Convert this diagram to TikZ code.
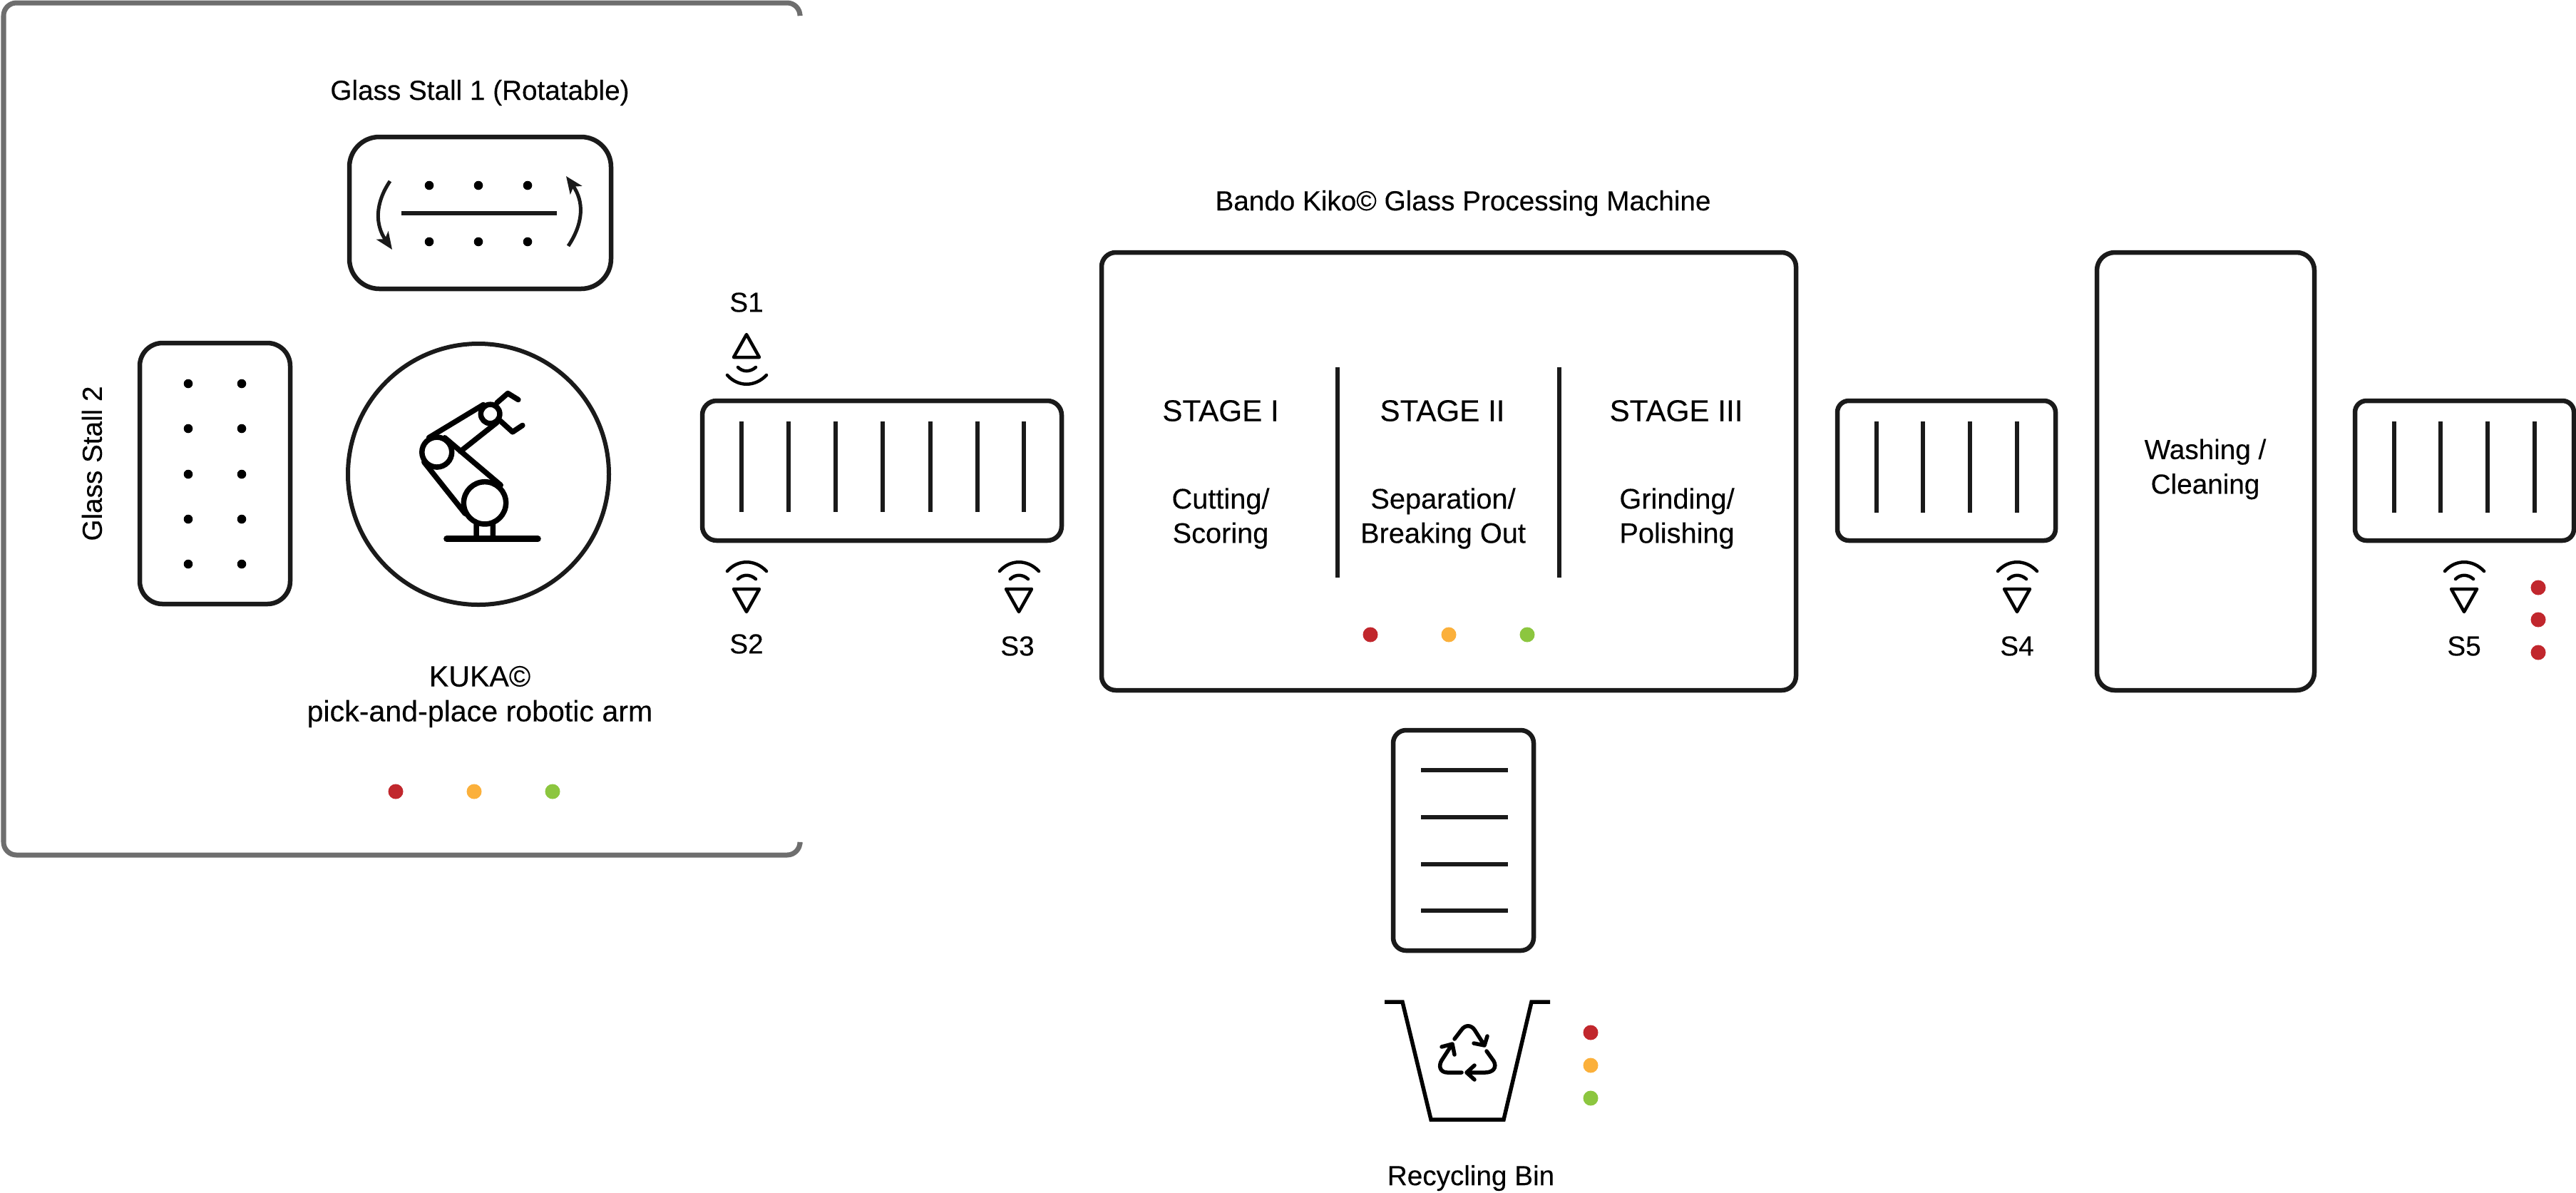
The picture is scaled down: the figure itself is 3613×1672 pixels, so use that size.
\documentclass[tikz,border=0pt]{standalone}
\usepackage{fontspec}
\setmainfont{Liberation Sans}[BoldFont=Liberation Sans,BoldFeatures={FakeBold=0.25}]
\usetikzlibrary{arrows.meta}
\definecolor{ink}{HTML}{1A1A1A}
\definecolor{framegray}{HTML}{6E6E6E}
\definecolor{lampred}{HTML}{C1272D}
\definecolor{lamporange}{HTML}{FBB03B}
\definecolor{lampgreen}{HTML}{8CC63F}
\tikzset{
  x=0.01cm,y=-0.01cm,
  box/.style={draw=ink,line width=0.065cm,rounded corners=#1},
  bar/.style={draw=ink,line width=0.058cm},
  pin/.style={fill=black,draw=none},
  lamp/.style={draw=none,fill=#1},
  label/.style={inner sep=0pt,align=center,text=black,font=\bfseries\fontsize{11}{13.8}\selectfont},
  widelabel/.style={label,font=\bfseries\fontsize{11.7}{13.9}\selectfont},
  sublabel/.style={label,font=\bfseries\fontsize{11.3}{13.7}\selectfont},
  stagelabel/.style={inner sep=0pt,text=black,font=\bfseries\fontsize{12}{14}\selectfont},
  icon/.style={draw=black,line width=0.075cm,line cap=round,line join=round},
  sensorpic/.pic={
    \draw[draw=black,line width=0.045cm,line cap=round,line join=round]
      (-27,13) .. controls (-12,-4) and (12,-4) .. (28,13)
      (-12,24) .. controls (-5,17) and (5,17) .. (13,24)
      (-18,38) -- (18,38) -- (0,70) -- cycle;
  }
}
\begin{document}
\begin{tikzpicture}
\useasboundingbox (0,0) rectangle (3613,1672);
% robot cell frame
\draw[draw=framegray,line width=0.07cm,rounded corners=0.18cm]
  (1122,20) -- (1122,4) -- (5,4) -- (5,1199) -- (1122,1199) -- (1122,1184);
% glass stall 1
\node[label] (stallone) at (673,130) {Glass Stall 1 (Rotatable)};
\draw[box=0.42cm] (490,192) rectangle (857,405);
\foreach \x in {602,671,740} \foreach \y in {260,339}
  \fill[pin] (\x,\y) circle[radius=6.3];
\draw[draw=ink,line width=0.06cm] (563,299) -- (781,299);
\draw[draw=ink,line width=0.05cm,-{Stealth[length=0.24cm,width=0.2cm,inset=0.06cm]}]
  (547,254) .. controls (526,285) and (526,315) .. (550,350);
\draw[draw=ink,line width=0.05cm,-{Stealth[length=0.24cm,width=0.2cm,inset=0.06cm]}]
  (797,345) .. controls (819,312) and (819,282) .. (794,247);
% glass stall 2
\node[label,rotate=90] (stalltwo) at (129,650) {Glass Stall 2};
\draw[box=0.32cm] (196,481) rectangle (407,847);
\foreach \x in {264,339} \foreach \y in {538,601,665,728,791}
  \fill[pin] (\x,\y) circle[radius=6.3];
% robot
\draw[draw=ink,line width=0.06cm] (671,665) circle[radius=183];
\begin{scope}[shift={(460,470)},x=0.003333cm,y=-0.003333cm]
  \draw[icon] (661,707) circle[radius=89] (459,493) circle[radius=63] (684,332) circle[radius=40];
  \draw[icon] (405,535) -- (578,752) (492,432) -- (728,632)
              (425,432) -- (655,293) (558,490) -- (712,368)
              (712,285) -- (758,245) -- (802,272)
              (725,360) -- (778,408) -- (820,380)
              (625,795) -- (625,858) (695,795) -- (695,858);
  \draw[icon,line width=0.085cm] (500,858) -- (885,858);
\end{scope}
\node[widelabel] (kuka) at (673,977) {KUKA©\\pick-and-place robotic arm};
\fill[lamp=lampred] (555,1110) circle[radius=10.5];
\fill[lamp=lamporange] (665,1110) circle[radius=10.5];
\fill[lamp=lampgreen] (775,1110) circle[radius=10.5];
% infeed conveyor
\draw[box=0.2cm] (985,562) rectangle (1489,758);
\foreach \x in {1040,1106,1172,1238,1305,1371,1436}
  \draw[bar] (\x,591) -- (\x,718);
\node[label] (sone) at (1047,424) {S1};
\pic[yscale=-1] at (1047,539) {sensorpic};
\pic at (1047,788) {sensorpic};
\node[label] (stwo) at (1047,903) {S2};
\pic at (1429,788) {sensorpic};
\node[label] (sthree) at (1427,906) {S3};
% processing machine
\node[label] (machine) at (2052,285) {Bando Kiko© Glass Processing Machine};
\draw[box=0.2cm] (1545,354) rectangle (2519,968);
\draw[draw=ink,line width=0.06cm] (1876,515) -- (1876,810) (2187,515) -- (2187,810);
\node[stagelabel] (stagea) at (1712,576) {STAGE I};
\node[stagelabel] (stageb) at (2023,576) {STAGE II};
\node[stagelabel] (stagec) at (2351,576) {STAGE III};
\node[sublabel] (cut) at (1712,727) {Cutting/\\Scoring};
\node[sublabel] (sep) at (2024,727) {Separation/\\Breaking Out};
\node[sublabel] (grind) at (2352,727) {Grinding/\\Polishing};
\fill[lamp=lampred] (1922,890) circle[radius=10.5];
\fill[lamp=lamporange] (2032,890) circle[radius=10.5];
\fill[lamp=lampgreen] (2142,890) circle[radius=10.5];
% recycling conveyor and bin
\draw[box=0.18cm] (1954,1024) rectangle (2151,1333);
\foreach \y in {1080,1146,1212,1277}
  \draw[bar] (1993,\y) -- (2115,\y);
\draw[draw=black,line width=0.055cm,line join=miter]
  (1942,1405) -- (1967,1405) -- (2007,1570) -- (2109,1570) -- (2148,1405) -- (2174,1405);
\draw[draw=black,line width=0.055cm,line cap=round,line join=round]
  (2040,1457) -- (2050,1444) .. controls (2055,1437) and (2063,1437) .. (2068,1444) -- (2082,1466)
  (2067,1463) -- (2082,1466) -- (2086,1453)
  (2085,1474) -- (2095,1488) .. controls (2100,1497) and (2094,1504) .. (2083,1504) -- (2057,1504)
  (2068,1494) -- (2057,1504) -- (2068,1514)
  (2050,1504) -- (2030,1504) .. controls (2020,1504) and (2017,1495) .. (2022,1487) -- (2037,1464)
  (2022,1468) -- (2037,1464) -- (2040,1479);
\node[label] (bin) at (2063,1652) {Recycling Bin};
\fill[lamp=lampred] (2231,1448) circle[radius=10.5];
\fill[lamp=lamporange] (2231,1494) circle[radius=10.5];
\fill[lamp=lampgreen] (2231,1540) circle[radius=10.5];
% conveyor S4
\draw[box=0.16cm] (2577,562) rectangle (2883,758);
\foreach \x in {2632,2697,2763,2829}
  \draw[bar] (\x,591) -- (\x,719);
\pic at (2829,788) {sensorpic};
\node[label] (sfour) at (2829,906) {S4};
% washing
\draw[box=0.25cm] (2941,354) rectangle (3246,968);
\node[label] (wash) at (3093,658) {Washing /\\Cleaning};
% conveyor S5
\draw[box=0.16cm] (3303,562) rectangle (3610,758);
\foreach \x in {3358,3423,3489,3555}
  \draw[bar] (\x,591) -- (\x,719);
\pic at (3456,788) {sensorpic};
\node[label] (sfive) at (3456,906) {S5};
\foreach \y in {824,869,915}
  \fill[lamp=lampred] (3560,\y) circle[radius=10.5];
\end{tikzpicture}
\end{document}
